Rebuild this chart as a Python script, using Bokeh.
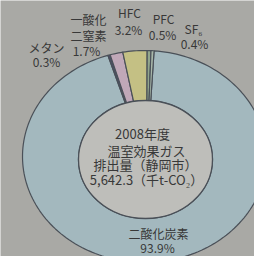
import numpy as np
from bokeh.plotting import figure
from bokeh.models import Range1d, ColumnDataSource
from bokeh.embed import file_html
from bokeh.resources import INLINE
from bokeh.core.properties import value

# ---- data ----
gases = ["二酸化炭素", "メタン", "一酸化二窒素", "HFC", "PFC", "SF₆"]
shares = [93.9, 0.3, 1.7, 3.2, 0.5, 0.4]          # percent
name_lines = [["二酸化炭素"], ["メタン"], ["一酸化", "二窒素"], ["HFC"], ["PFC"], ["SF₆"]]
year = 2008
total = 5642.3                                     # 千t-CO2
title_lines = [f"{year}年度", "温室効果ガス", "排出量（静岡市）", f"{total:,.1f}（千t-CO₂）"]

# ---- style / layout ----
colors = ["#a3b8be", "#4e5068", "#c0a8b8", "#c4c084", "#92a68c", "#a9b8aa"]
bg = "#a9a9a5"
hole = "#bebeba"
edge = "#4a5058"
txt = "#383838"
font = value("Noto Sans CJK JP")

W, H = 254, 256
cx_o, cy_o, rx_o, ry_o = 144, 156, 122, 106      # outer ellipse
cx_i, cy_i, rx_i, ry_i = 145, 159, 67, 59        # inner ellipse
start_deg = 4.5                                    # clockwise from 12 o'clock

# label anchor positions (text centre)
name_pos = [[(158, 233)], [(46, 47)], [(88, 19), (88, 35)], [(129, 12)], [(163, 18)], [(193, 28)]]
pct_pos = [(157, 247), (46, 61), (86, 50), (128, 29), (162, 34), (194, 43)]
title_pos = [(142, 133), (146, 150), (145, 164), (146, 179)]

p = figure(width=W, height=H, x_range=Range1d(0, W), y_range=Range1d(H, 0),
           x_axis_type=None, y_axis_type=None, toolbar_location=None,
           output_backend="svg", min_border=0,
           background_fill_color=bg, border_fill_color=bg, outline_line_color=None)
p.grid.visible = False

# slices from cumulative shares
fr = np.cumsum([0] + shares) / 100.0
xs, ys = [], []
for k in range(len(shares)):
    a0 = np.deg2rad(start_deg) + fr[k] * 2 * np.pi
    a1 = np.deg2rad(start_deg) + fr[k + 1] * 2 * np.pi
    t = np.linspace(a0, a1, max(4, int(200 * (fr[k + 1] - fr[k])) + 4))
    ox = cx_o + rx_o * np.sin(t)
    oy = cy_o - ry_o * np.cos(t)
    ix = cx_i + rx_i * np.sin(t[::-1])
    iy = cy_i - ry_i * np.cos(t[::-1])
    xs.append(np.concatenate([ox, ix]).tolist())
    ys.append(np.concatenate([oy, iy]).tolist())

src = ColumnDataSource(dict(xs=xs, ys=ys, color=colors, gas=gases, share=shares))
p.patches("xs", "ys", source=src, fill_color="color", line_color=edge, line_width=1.2)

# hole
p.ellipse(x=[cx_i], y=[cy_i], width=[2 * rx_i], height=[2 * ry_i],
          fill_color=hole, line_color=edge, line_width=1.3)

# labels around the ring
lx, ly, lt = [], [], []
for k in range(len(gases)):
    for line, (x, y) in zip(name_lines[k], name_pos[k]):
        lx.append(x); ly.append(y); lt.append(line)
    lx.append(pct_pos[k][0]); ly.append(pct_pos[k][1]); lt.append(f"{shares[k]}%")
p.text(x=lx, y=ly, text=lt, text_font=font, text_font_size="12px",
       text_color=txt, text_align="center", text_baseline="middle")

# centre title
p.text(x=[q[0] for q in title_pos], y=[q[1] for q in title_pos], text=title_lines,
       text_font=font, text_font_size="13px",
       text_color=txt, text_align="center", text_baseline="middle")

open("out.html", "w").write(file_html(p, INLINE))
